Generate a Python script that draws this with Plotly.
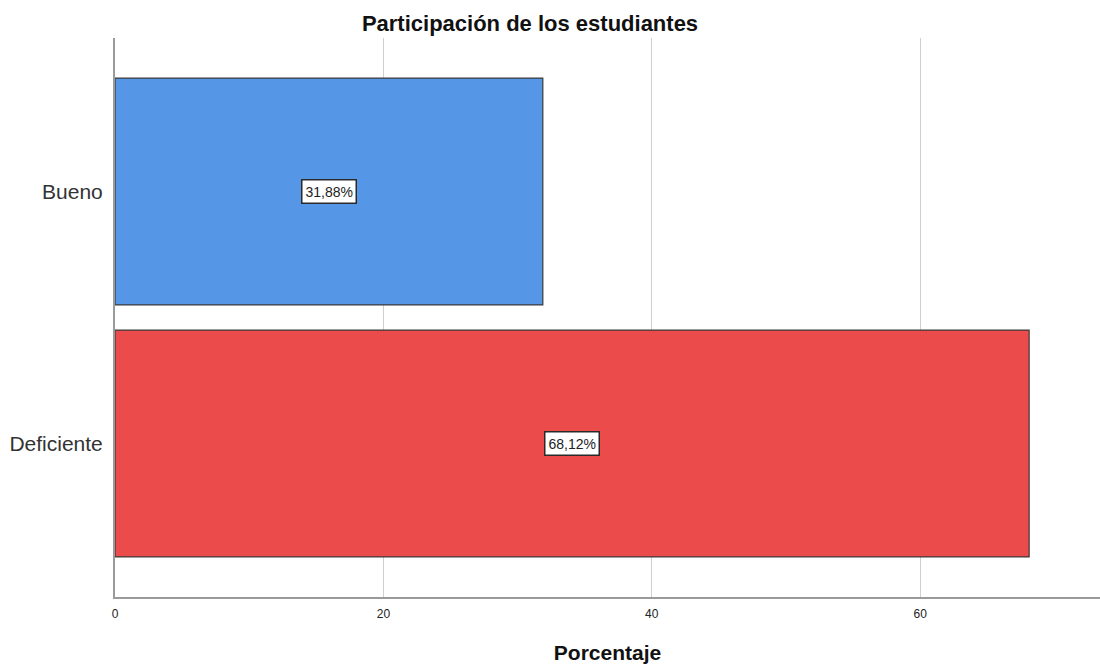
import plotly.graph_objects as go

# Student participation levels (percent)
categories = ["Deficiente", "Bueno"]
percentages = [68.12, 31.88]
bar_colors = ["#EC4B4C", "#5596E6"]
value_labels = ["68,12%", "31,88%"]
x_ticks = [0, 20, 40, 60]

fig = go.Figure()
fig.add_trace(go.Bar(
    x=percentages,
    y=categories,
    orientation="h",
    width=0.9,
    marker=dict(color=bar_colors, line=dict(color="#3a3a3a", width=1.2)),
    hoverinfo="skip",
))

# Boxed value labels centred on each bar
for cat, val, lab in zip(categories, percentages, value_labels):
    fig.add_annotation(
        x=val / 2, y=cat, xref="x", yref="y",
        text=lab, showarrow=False,
        font=dict(family="Arial, Liberation Sans, sans-serif", size=14, color="#222"),
        bgcolor="white", bordercolor="#2a2a2a", borderwidth=1.5, borderpad=3,
    )

fig.update_layout(
    width=1100, height=670,
    margin=dict(l=115, r=0, t=38, b=73),
    plot_bgcolor="white", paper_bgcolor="white",
    showlegend=False,
    bargap=0.1,
    title=dict(
        text="<b>Participación de los estudiantes</b>",
        font=dict(family="Arial, Liberation Sans, sans-serif", size=22, color="#111"),
        xref="container", x=530 / 1100, xanchor="center",
        yref="container", y=1 - 23 / 670, yanchor="middle",
    ),
    xaxis=dict(
        range=[0, 73.4],
        tickvals=x_ticks,
        ticktext=[str(t) for t in x_ticks],
        tickfont=dict(family="Liberation Sans Narrow, Arial Narrow, Arial, sans-serif", size=12, color="#222"),
        showgrid=True, gridcolor="#cfcfcf", gridwidth=1,
        showline=True, linecolor="#9a9a9a", linewidth=2,
        zeroline=False,
        ticks="outside", ticklen=5, tickcolor="rgba(0,0,0,0)",
        title=dict(
            text="<b>Porcentaje</b>",
            font=dict(family="Arial, Liberation Sans, sans-serif", size=21, color="#111"),
            standoff=25,
        ),
    ),
    yaxis=dict(
        type="category",
        categoryorder="array", categoryarray=categories,
        range=[-0.609, 1.609],
        tickfont=dict(family="Arial, Liberation Sans, sans-serif", size=21, color="#333"),
        showline=True, linecolor="#9a9a9a", linewidth=2,
        showgrid=False, zeroline=False,
        ticks="outside", ticklen=6, tickcolor="rgba(0,0,0,0)",
    ),
)

fig.write_html("out.html")
